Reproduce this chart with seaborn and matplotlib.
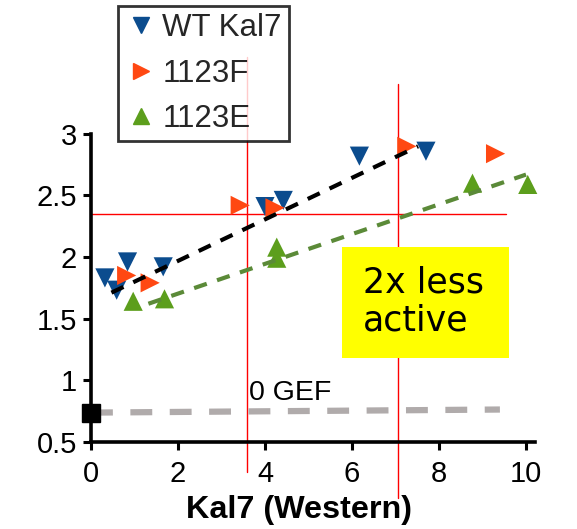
import numpy as np
import pandas as pd
import matplotlib
matplotlib.use("Agg")
import matplotlib.pyplot as plt
from matplotlib.lines import Line2D
from matplotlib.patches import Rectangle
import seaborn as sns

# values
wt_x = [0.32, 0.59, 0.84, 1.66, 4.00, 4.42, 6.17, 7.70]
wt_y = [1.83, 1.73, 1.96, 1.92, 2.41, 2.46, 2.82, 2.86]
f_x = [0.82, 1.36, 3.43, 4.23, 7.26, 9.30]
f_y = [1.85, 1.79, 2.42, 2.40, 2.90, 2.84]
e_x = [0.97, 1.69, 4.27, 4.27, 8.77, 10.04]
e_y = [1.64, 1.66, 2.08, 1.99, 2.60, 2.59]
series = ["WT Kal7", "1123F", "1123E"]

# fitted lines (end points)
wt_fit_x = [0.47, 7.52]
wt_fit_y = [1.71, 2.90]
e_fit_x = [1.32, 10.0]
e_fit_y = [1.62, 2.67]
gef_x = [0.0, 9.4]
gef_y = [0.735, 0.76]

colors = {"WT Kal7": "#0b4c8e", "1123F": "#ff4812", "1123E": "#5c9e1c"}
markers = {"WT Kal7": "v", "1123F": ">", "1123E": "^"}

df = pd.DataFrame({
    "x": wt_x + f_x + e_x,
    "y": wt_y + f_y + e_y,
    "s": ["WT Kal7"] * len(wt_x) + ["1123F"] * len(f_x) + ["1123E"] * len(e_x),
})

sns.set_style("ticks")
plt.rcParams["font.family"] = ["Liberation Sans", "DejaVu Sans"]

fig = plt.figure(figsize=(5.77, 5.29), dpi=100)
ax = fig.add_axes([0.1577, 0.1654, 0.769, 0.5813])

# red guide lines
ax.plot([3.59, 3.59], [0.25, 3.63], color="red", lw=1, clip_on=False, zorder=1)
ax.plot([7.06, 7.06], [0.04, 3.41], color="red", lw=1, clip_on=False, zorder=1)
ax.plot([0, 9.54], [2.35, 2.35], color="red", lw=1, clip_on=False, zorder=1)

ax.plot(gef_x, gef_y, color="#b0abab", lw=4.5, dashes=(3.5, 2.8), zorder=2)
ax.plot(e_fit_x, e_fit_y, color="#5b8a38", lw=3, dashes=(3.2, 2.6), zorder=4)

sns.scatterplot(data=df, x="x", y="y", hue="s", style="s", palette=colors,
                markers=markers, s=190, linewidth=0, legend=False, ax=ax,
                zorder=3, clip_on=False)

ax.plot(wt_fit_x, wt_fit_y, color="black", lw=3, dashes=(3.2, 2.6), zorder=4)
ax.plot([0], [0.735], marker="s", ms=13, color="black", clip_on=False, zorder=5)

ax.text(3.63, 0.79, "0 GEF", fontsize=20.5, color="black", ha="left", va="bottom")

# yellow note
ax.add_patch(Rectangle((5.77, 1.18), 3.84, 0.90, fc="yellow", ec="none", zorder=5))
ax.text(6.26, 1.64, "2x less\nactive", fontsize=25, family="DejaVu Sans",
        color="black", ha="left", va="center", linespacing=1.15, zorder=6)

ax.set_xlim(0, 10.2)
ax.set_ylim(0.5, 3.0)
ax.set_xticks([0, 2, 4, 6, 8, 10])
ax.set_yticks([0.5, 1, 1.5, 2, 2.5, 3])
ax.set_yticklabels(["0.5", "1", "1.5", "2", "2.5", "3"])
ax.tick_params(labelsize=21, width=2.2, length=6, color="black",
               labelcolor="black")
ax.tick_params(axis="x", pad=7)
ax.tick_params(axis="y", pad=4)
for side in ["left", "bottom"]:
    ax.spines[side].set_linewidth(2.6)
    ax.spines[side].set_color("black")
sns.despine(ax=ax)
ax.set_xlabel("Kal7 (Western)", fontsize=23.3, fontweight="bold", color="black")
ax.xaxis.set_label_coords(0.469, -0.175)
ax.set_ylabel("")

handles = [Line2D([], [], marker=markers[k], color=colors[k], ls="none", ms=12)
           for k in series]
leg = fig.legend(handles, series, loc="upper left",
                 bbox_to_anchor=(118 / 577, 1 - 6 / 529), fontsize=22.5,
                 frameon=True, fancybox=False, handlelength=1.0,
                 handletextpad=0.2, labelspacing=0.5, borderpad=0.22,
                 borderaxespad=0)
leg.get_frame().set_edgecolor("black")
leg.get_frame().set_linewidth(2)

fig.savefig("out.png", dpi=100)
